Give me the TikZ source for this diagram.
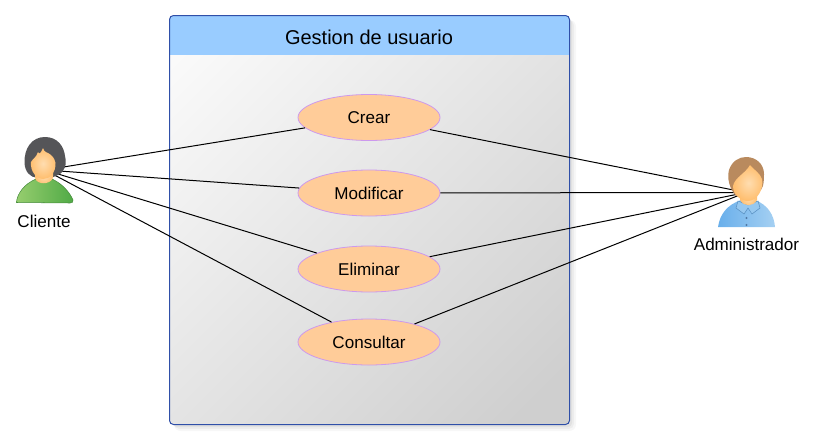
\documentclass[tikz,border=0pt]{standalone}
\usepackage{fontspec}
\setmainfont{Liberation Sans}
\usetikzlibrary{shapes.geometric}
\definecolor{framec}{HTML}{2F4FA8}
\definecolor{headc}{HTML}{99CCFF}
\definecolor{ucfill}{HTML}{FFCC99}
\definecolor{ucline}{HTML}{CC99EE}
\definecolor{hairw}{HTML}{555558}
\definecolor{hairm}{HTML}{B98A5E}
\definecolor{skin}{HTML}{FFBE6E}
\definecolor{skinl}{HTML}{FFDDB0}
\definecolor{greenl}{RGB}{150,205,110}
\definecolor{greend}{RGB}{80,170,70}
\definecolor{greene}{RGB}{70,140,60}
\definecolor{bluel}{RGB}{165,208,242}
\definecolor{blued}{RGB}{105,175,235}
\definecolor{collar}{RGB}{150,200,240}
\definecolor{collare}{RGB}{90,145,195}
\definecolor{btn}{RGB}{80,120,165}
\tikzset{
  usecase/.style={ellipse,draw=ucline,line width=0.6pt,fill=ucfill,minimum width=106.5pt,minimum height=34.5pt,inner sep=0pt,font=\fontsize{12.8}{15}\selectfont},
  link/.style={draw=black,line width=0.75pt},
  actorlabel/.style={font=\fontsize{12.8}{15}\selectfont,text=black},
  titlelabel/.style={font=\fontsize{15}{18}\selectfont,text=black},
  skinshade/.style={shade,shading=radial,inner color=skinl,outer color=skin}
}
\begin{document}
\begin{tikzpicture}[x=0.75pt,y=-0.75pt]
\useasboundingbox (0,0) rectangle (816,439);
% soft shadow of the panel
\fill[black,opacity=0.03,rounded corners=5pt] (174,20) rectangle (576,431);
\fill[black,opacity=0.04,rounded corners=4pt] (174,20) rectangle (574,429);
\fill[black,opacity=0.05,rounded corners=3pt] (173,19) rectangle (572,427);
% panel
\begin{scope}
\path[clip,rounded corners=3pt] (169.5,15.5) rectangle (569.5,424.5);
\path[shade,shading=axis,left color=white!98!black,right color=white!81!black,shading angle=45] (169.5,-85) rectangle (569.5,524);
\fill[headc] (169.5,15.5) rectangle (569.5,55);
\end{scope}
\draw[framec,line width=0.75pt,rounded corners=3pt] (169.5,15.5) rectangle (569.5,424.5);
\node[titlelabel] (title) at (369,37) {Gestion de usuario};
% use cases
\node[usecase] (crear) at (369,117.5) {Crear};
\node[usecase] (modificar) at (369,193) {Modificar};
\node[usecase] (eliminar) at (369,269) {Eliminar};
\node[usecase] (consultar) at (369,342) {Consultar};
% actor anchors
\coordinate (cliente) at (45,170);
\coordinate (admin) at (746,192.5);
\foreach \u in {crear,modificar,eliminar,consultar}{
  \draw[link] (cliente) -- (\u);
  \draw[link] (admin) -- (\u);
}
% --- Cliente figure
\path[shade,left color=greenl,right color=greend,draw=greene,line width=0.4pt]
 (16.5,202.5) .. controls (17,194) and (24,184) .. (36,179) -- (52,179)
 .. controls (63,184) and (70,193) .. (73,200) .. controls (73.5,202) and (72,203) .. (70,203) -- cycle;
\fill[hairw] (37,178) .. controls (30,177) and (25,172) .. (24.5,163)
 .. controls (24,148) and (32,137) .. (45,137)
 .. controls (58,137) and (64,147) .. (65,156)
 .. controls (67,164) and (65,172) .. (58,175)
 .. controls (54,177) and (51,178) .. (47,178) -- cycle;
\path[skinshade] (35,168) -- (35,178) .. controls (37,185) and (50,185) .. (53,178) -- (53,168) -- cycle;
\path[skinshade]
 (31,162) .. controls (34,157) and (36,158) .. (38,152)
 .. controls (39,155) and (41,153) .. (43,148)
 .. controls (44,153) and (48,152) .. (51,155)
 .. controls (54,158) and (55,160) .. (55.5,163)
 .. controls (56,172) and (50,179) .. (43.5,179)
 .. controls (37,179) and (30,172) .. (31,162) -- cycle;
% --- Administrador figure
\path[shade,left color=blued,right color=bluel]
 (718,227) .. controls (720,214) and (727,205) .. (741,200) -- (755,200)
 .. controls (768,205) and (774,215) .. (775,227) -- cycle;
\fill[hairm] (736,196) .. controls (729,188) and (727,178) .. (729,170)
 .. controls (732,161) and (739,157) .. (746,157)
 .. controls (756,157) and (764,164) .. (764,174)
 .. controls (764,184) and (763,190) .. (758,192) -- cycle;
\filldraw[fill=collar,draw=collare,line width=0.4pt] (738,201) -- (748,205) -- (758,201) -- (760,208) -- (752,214) -- (748,208) -- (744,214) -- (736,208) -- cycle;
\path[skinshade] (740,190) -- (740,200) .. controls (744,207) and (753,207) .. (757,200) -- (757,190) -- cycle;
\path[skinshade]
 (733,186) .. controls (735,177) and (745,174) .. (750,165)
 .. controls (754,170) and (760,173) .. (762,179)
 .. controls (764,189) and (757,201) .. (748,201)
 .. controls (741,201) and (733,195) .. (733,186) -- cycle;
\fill[btn] (746.5,218) circle (1.2) (746.5,225) circle (1.2);
% labels
\node[actorlabel] (clientelabel) at (44,221) {Cliente};
\node[actorlabel] (adminlabel) at (746.5,244) {Administrador};
\end{tikzpicture}
\end{document}
